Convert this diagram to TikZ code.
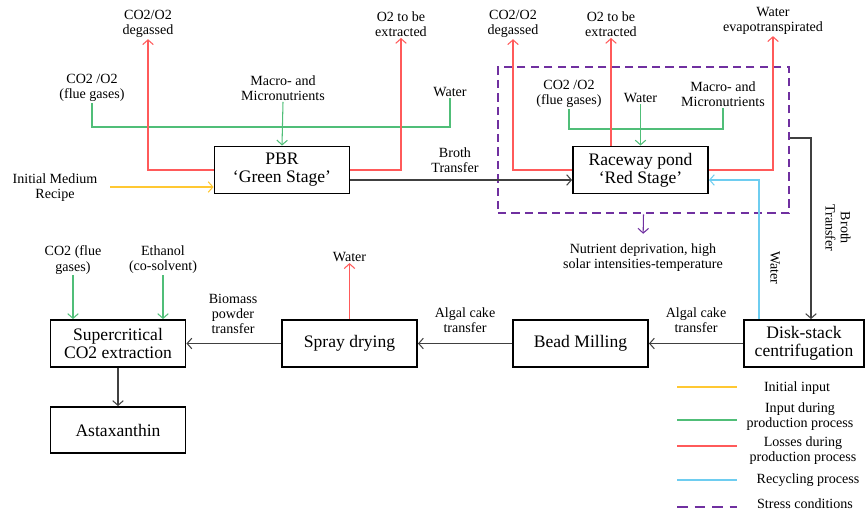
\documentclass[tikz,border=0pt]{standalone}
\usepackage{fontspec}
\setmainfont{Liberation Serif}
\usetikzlibrary{arrows.meta}

\definecolor{initcol}{RGB}{255,200,50}
\definecolor{inputcol}{RGB}{80,190,120}
\definecolor{losscol}{RGB}{255,90,90}
\definecolor{recycol}{RGB}{110,205,240}
\definecolor{stresscol}{RGB}{112,48,160}
\definecolor{flowcol}{RGB}{64,64,64}

\begin{document}
\begin{tikzpicture}[x=0.03cm,y=-0.03cm,>={Straight Barb[length=4pt,width=9pt]},
		stage/.style={rectangle,draw,line width=1.6pt,minimum width=4.05cm,minimum height=1.41cm,
			inner sep=1pt,align=center,font=\fontsize{15}{15.5}\selectfont},
		lbl/.style={align=center,inner sep=1pt,font=\fontsize{12}{13}\selectfont},
		flow/.style={->,draw=flowcol,line width=0.9pt},
		initial/.style={draw=initcol,line width=0.9pt},
		input/.style={draw=inputcol,line width=0.9pt},
		loss/.style={draw=losscol,line width=0.9pt},
		recycle/.style={draw=recycol,line width=0.9pt},
		stressline/.style={draw=stresscol,line width=2.2pt,dash pattern=on 7pt off 4.5pt}]
	
	\useasboundingbox (0,0) rectangle (866,513);
	
	% process stages
	\node[stage] (pbr) at (282,170) {PBR\\`Green Stage'};
	\node[stage] (race) at (640.5,170) {Raceway pond\\`Red Stage'};
	\node[stage,minimum width=3.6cm] (disk) at (804,343.5) {Disk-stack\\centrifugation};
	\node[stage] (bead) at (580.5,343.5) {Bead Milling};
	\node[stage] (spray) at (349.5,343.5) {Spray drying};
	\node[stage] (super) at (118,343.5) {Supercritical\\CO2 extraction};
	\node[stage,minimum height=1.38cm] (asta) at (118,430) {Astaxanthin};
	
	% stress zone
	\node[stressline,rectangle,minimum width=8.73cm,minimum height=4.38cm] (stress) at (643.5,140) {};
	
	% labels, green stage
	\node[lbl] (pdeg) at (148,24) {CO2/O2\\degassed};
	\node[lbl] (pext) at (401,24) {O2 to be\\extracted};
	\node[lbl] (pflue) at (92,88) {CO2 /O2\\(flue gases)};
	\node[lbl] (pmac) at (283,88) {Macro- and\\Micronutrients};
	\node[lbl] (pwat) at (450,92) {Water};
	\node[lbl] (recipe) at (55,188) {Initial Medium\\Recipe};
	\node[lbl] (broth) at (455,160) {Broth\\Transfer};
	
	% labels, red stage
	\node[lbl] (rdeg) at (513,24) {CO2/O2\\degassed};
	\node[lbl] (rext) at (611,24) {O2 to be\\extracted};
	\node[lbl] (revap) at (773,21) {Water\\evapotranspirated};
	\node[lbl] (rflue) at (569,94) {CO2 /O2\\(flue gases)};
	\node[lbl] (rwat) at (640.5,98) {Water};
	\node[lbl] (rmac) at (723,94) {Macro- and\\Micronutrients};
	\node[lbl] (nutr) at (643,257.5) {Nutrient deprivation, high\\solar intensities-temperature};
	\node[lbl,rotate=-90] (recwat) at (775,268) {Water};
	\node[lbl,rotate=-90] (broth2) at (838,228) {Broth\\Transfer};
	
	% labels, downstream
	\node[lbl] (cake1) at (696,320.5) {Algal cake\\transfer};
	\node[lbl] (cake2) at (465,320.5) {Algal cake\\transfer};
	\node[lbl] (powder) at (233,314) {Biomass\\powder\\transfer};
	\node[lbl] (swat) at (349.5,257) {Water};
	\node[lbl] (sco2) at (73,260) {CO2 (flue\\gases)};
	\node[lbl] (seth) at (163,260) {Ethanol\\(co-solvent)};
	
	\coordinate (pbus) at (283,127);
	\coordinate (rbus) at (640.5,129);
	\coordinate (recin) at (110,187);
	\coordinate (bt) at (811,138);
	\coordinate (rc) at (759,180);
	
	% green stage
	\draw[input] (pflue.south) |- (pbus) -| (pwat.south);
	\draw[input,->] (pmac.south) -- (pbr.north);
	\draw[loss,->] (pbr.west) -| (pdeg.south);
	\draw[loss,->] (pbr.east) -| (pext.south);
	\draw[initial,->] (recin) -- (recin -| pbr.west);
	\draw[flow] ([yshift=-0.3cm]pbr.east) -- ([yshift=-0.3cm]race.west);
	
	% red stage
	\draw[input] (rflue.south) |- (rbus) -| (rmac.south);
	\draw[input,->] (rwat.south) -- (race.north);
	\draw[loss,->] (race.west) -| (rdeg.south);
	\draw[loss,->] (rext.south |- race.north) -- (rext.south);
	\draw[loss,->] (race.east) -| (revap.south);
	\draw[stresscol,line width=0.9pt,->,shorten >=2.5mm] (stress.south) -- (nutr.north);
	\draw[recycle,->] (rc |- disk.north) -- (rc) -- (rc -| race.east);
	\draw[flow] (stress.east |- bt) -- (bt) -- (bt |- disk.north);
	
	% downstream
	\draw[flow] (disk.west) -- (bead.east);
	\draw[flow] (bead.west) -- (spray.east);
	\draw[flow] (spray.west) -- (super.east);
	\draw[flow] (super.south) -- (asta.north);
	\draw[loss,->] (spray.north) -- (swat.south);
	\draw[input,->] (sco2.south) -- (sco2.south |- super.north);
	\draw[input,->] (seth.south) -- (seth.south |- super.north);
	
	% legend
	\node[lbl] (lg1) at (797,388) {Initial input};
	\node[lbl] (lg2) at (800,416.5) {Input during\\production process};
	\node[lbl] (lg3) at (803,450.5) {Losses during\\production process};
	\node[lbl] (lg4) at (808,480) {Recycling process};
	\node[lbl] (lg5) at (805,504) {Stress conditions};
	\draw[initial] (677,387) -- (737,387);
	\draw[input] (677,420) -- (737,420);
	\draw[loss] (677,446) -- (737,446);
	\draw[recycle] (677,480) -- (737,480);
	\draw[stressline,dash pattern=on 9pt off 6pt] (677,507) -- (737,507);
\end{tikzpicture}
\end{document}
